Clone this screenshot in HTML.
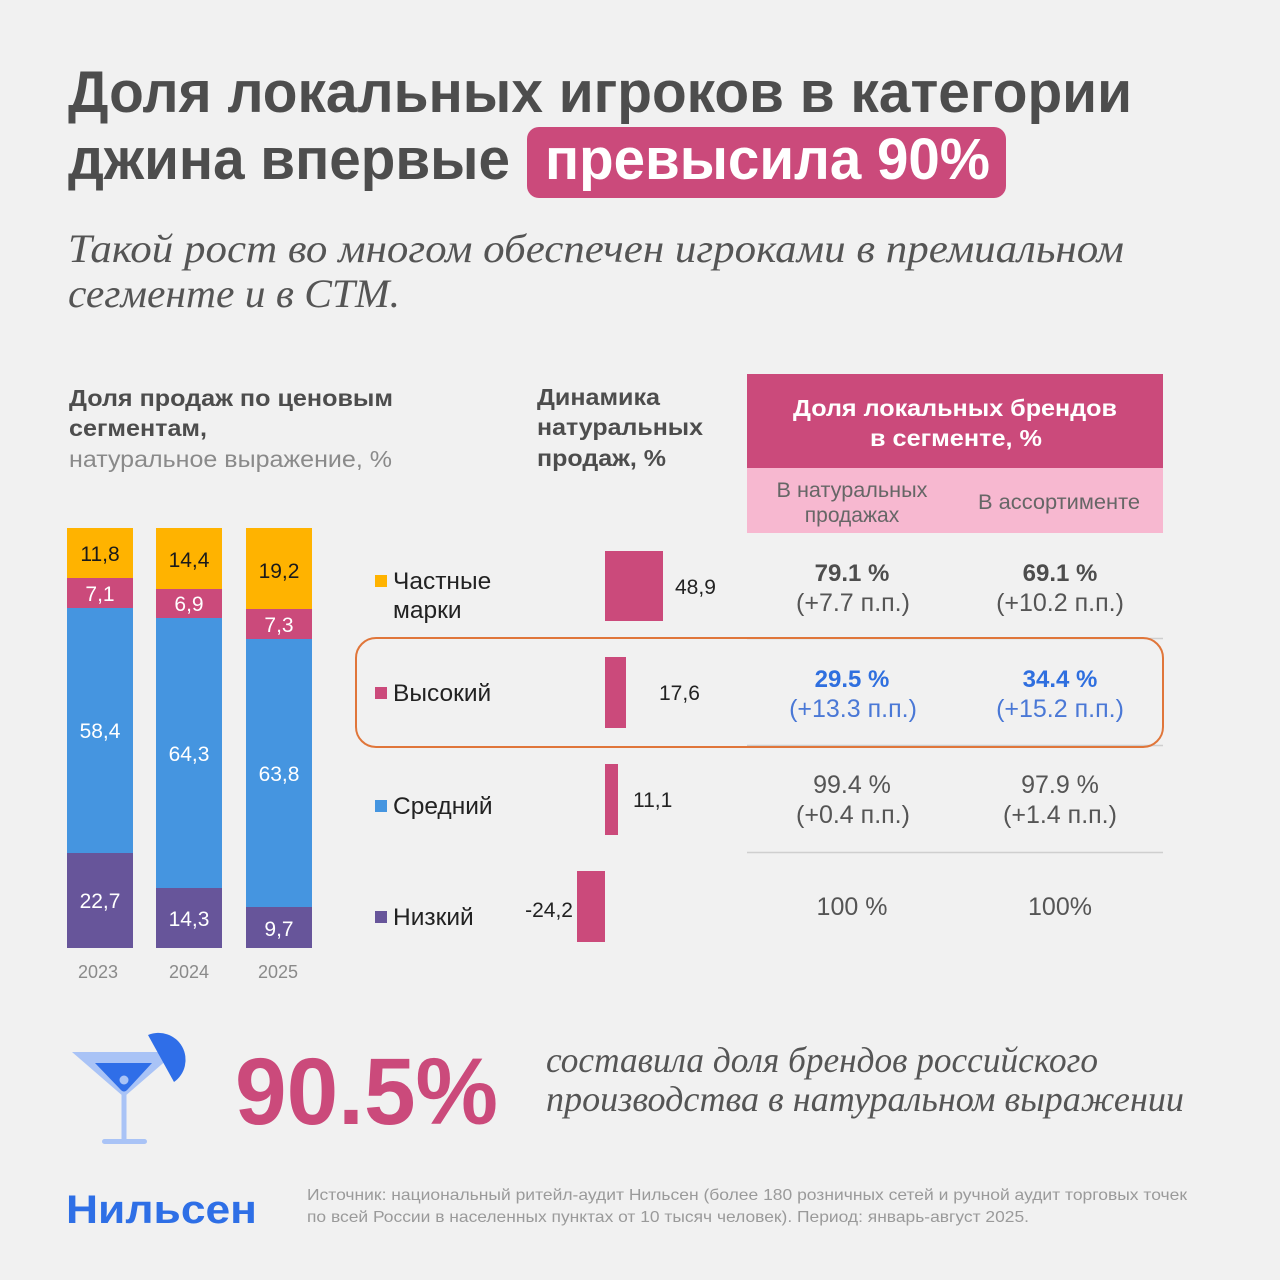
<!DOCTYPE html>
<html><head><meta charset="utf-8"><style>
html,body{margin:0;padding:0;background:#f1f1f1;}
svg{display:block;}
.s{font-family:"Liberation Sans","DejaVu Sans",sans-serif;}
.r{font-family:"Liberation Serif","DejaVu Serif",serif;font-style:italic;}
</style></head><body>
<svg width="1280" height="1280" viewBox="0 0 1280 1280" xmlns="http://www.w3.org/2000/svg">
<rect x="0" y="0" width="1280" height="1280" fill="#f1f1f1"/>

<!-- Title -->
<text class="s" x="68" y="112" font-size="58" font-weight="bold" fill="#4d4d4d" textLength="1064" lengthAdjust="spacingAndGlyphs">Доля локальных игроков в категории</text>
<text class="s" x="68" y="179" font-size="58" font-weight="bold" fill="#4d4d4d" textLength="442" lengthAdjust="spacingAndGlyphs">джина впервые</text>
<rect x="527" y="127" width="479" height="71" rx="12" fill="#cb4a7b"/>
<text class="s" x="545" y="179" font-size="58" font-weight="bold" fill="#ffffff" textLength="445" lengthAdjust="spacingAndGlyphs">превысила 90%</text>

<!-- Subtitle -->
<text class="r" x="68" y="262" font-size="40" fill="#555555" textLength="1056" lengthAdjust="spacingAndGlyphs">Такой рост во многом обеспечен игроками в премиальном</text>
<text class="r" x="68" y="307" font-size="40" fill="#555555" textLength="332" lengthAdjust="spacingAndGlyphs">сегменте и в СТМ.</text>

<!-- Section headers -->
<text class="s" x="69" y="406" font-size="23" font-weight="bold" fill="#4d4d4d" textLength="324" lengthAdjust="spacingAndGlyphs">Доля продаж по ценовым</text>
<text class="s" x="69" y="436" font-size="23" font-weight="bold" fill="#4d4d4d" textLength="138" lengthAdjust="spacingAndGlyphs">сегментам,</text>
<text class="s" x="69" y="467" font-size="23" fill="#8a8a8a" textLength="323" lengthAdjust="spacingAndGlyphs">натуральное выражение, %</text>

<text class="s" x="537" y="405" font-size="23" font-weight="bold" fill="#4d4d4d" textLength="123" lengthAdjust="spacingAndGlyphs">Динамика</text>
<text class="s" x="537" y="435" font-size="23" font-weight="bold" fill="#4d4d4d" textLength="166" lengthAdjust="spacingAndGlyphs">натуральных</text>
<text class="s" x="537" y="466" font-size="23" font-weight="bold" fill="#4d4d4d" textLength="129" lengthAdjust="spacingAndGlyphs">продаж, %</text>

<!-- Table header -->
<rect x="747" y="374" width="416" height="94" fill="#cb4a7b"/>
<rect x="747" y="468" width="416" height="65" fill="#f7b8d0"/>
<text class="s" x="955" y="416" font-size="23" font-weight="bold" fill="#ffffff" text-anchor="middle" textLength="324" lengthAdjust="spacingAndGlyphs">Доля локальных брендов</text>
<text class="s" x="956" y="446" font-size="23" font-weight="bold" fill="#ffffff" text-anchor="middle" textLength="172" lengthAdjust="spacingAndGlyphs">в сегменте, %</text>
<text class="s" x="852" y="497" font-size="21" fill="#666666" text-anchor="middle" textLength="151" lengthAdjust="spacingAndGlyphs">В натуральных</text>
<text class="s" x="852" y="522" font-size="21" fill="#666666" text-anchor="middle">продажах</text>
<text class="s" x="1059" y="509" font-size="21" fill="#666666" text-anchor="middle" textLength="162" lengthAdjust="spacingAndGlyphs">В ассортименте</text>

<!-- Table lines -->
<line x1="747" y1="638.5" x2="1163" y2="638.5" stroke="#cfcfcf" stroke-width="1.5"/>
<line x1="747" y1="745.5" x2="1163" y2="745.5" stroke="#cfcfcf" stroke-width="1.5"/>
<line x1="747" y1="852.5" x2="1163" y2="852.5" stroke="#cfcfcf" stroke-width="1.5"/>

<!-- Table values -->
<g class="s" text-anchor="middle">
<text x="852" y="581" font-size="24" font-weight="bold" fill="#4d4d4d">79.1 %</text>
<text x="853" y="611" font-size="25" fill="#555555">(+7.7 п.п.)</text>
<text x="1060" y="581" font-size="24" font-weight="bold" fill="#4d4d4d">69.1 %</text>
<text x="1060" y="611" font-size="25" fill="#555555">(+10.2 п.п.)</text>

<text x="852" y="687" font-size="24" font-weight="bold" fill="#2f6fdf">29.5 %</text>
<text x="853" y="717" font-size="25" fill="#4a78d6">(+13.3 п.п.)</text>
<text x="1060" y="687" font-size="24" font-weight="bold" fill="#2f6fdf">34.4 %</text>
<text x="1060" y="717" font-size="25" fill="#4a78d6">(+15.2 п.п.)</text>

<text x="852" y="793" font-size="25" fill="#555555">99.4 %</text>
<text x="853" y="823" font-size="25" fill="#555555">(+0.4 п.п.)</text>
<text x="1060" y="793" font-size="25" fill="#555555">97.9 %</text>
<text x="1060" y="823" font-size="25" fill="#555555">(+1.4 п.п.)</text>

<text x="852" y="915" font-size="25" fill="#555555">100 %</text>
<text x="1060" y="915" font-size="25" fill="#555555">100%</text>
</g>

<!-- Highlight box -->
<rect x="356" y="638" width="807" height="109" rx="20" fill="none" stroke="#e0763a" stroke-width="2"/>

<!-- Stacked bars -->
<g>
<rect x="67" y="528" width="66" height="50" fill="#ffb300"/>
<rect x="67" y="578" width="66" height="30" fill="#cb4a7b"/>
<rect x="67" y="608" width="66" height="245" fill="#4595e0"/>
<rect x="67" y="853" width="66" height="95" fill="#67559a"/>

<rect x="156" y="528" width="66" height="61" fill="#ffb300"/>
<rect x="156" y="589" width="66" height="29" fill="#cb4a7b"/>
<rect x="156" y="618" width="66" height="270" fill="#4595e0"/>
<rect x="156" y="888" width="66" height="60" fill="#67559a"/>

<rect x="246" y="528" width="66" height="81" fill="#ffb300"/>
<rect x="246" y="609" width="66" height="30" fill="#cb4a7b"/>
<rect x="246" y="639" width="66" height="268" fill="#4595e0"/>
<rect x="246" y="907" width="66" height="41" fill="#67559a"/>
</g>
<g class="s" font-size="21" text-anchor="middle">
<text x="100" y="561" fill="#1a1a1a">11,8</text>
<text x="100" y="601" fill="#ffffff">7,1</text>
<text x="100" y="738" fill="#ffffff">58,4</text>
<text x="100" y="908" fill="#ffffff">22,7</text>

<text x="189" y="567" fill="#1a1a1a">14,4</text>
<text x="189" y="611" fill="#ffffff">6,9</text>
<text x="189" y="761" fill="#ffffff">64,3</text>
<text x="189" y="926" fill="#ffffff">14,3</text>

<text x="279" y="578" fill="#1a1a1a">19,2</text>
<text x="279" y="632" fill="#ffffff">7,3</text>
<text x="279" y="781" fill="#ffffff">63,8</text>
<text x="279" y="936" fill="#ffffff">9,7</text>
</g>
<g class="s" font-size="18" fill="#8a8a8a" text-anchor="middle">
<text x="98" y="978">2023</text>
<text x="189" y="978">2024</text>
<text x="278" y="978">2025</text>
</g>

<!-- Legend -->
<rect x="375" y="575" width="12" height="12" fill="#ffb300"/>
<rect x="375" y="687" width="12" height="12" fill="#cb4a7b"/>
<rect x="375" y="800" width="12" height="12" fill="#4595e0"/>
<rect x="375" y="911" width="12" height="12" fill="#67559a"/>
<g class="s" font-size="24.5" fill="#222222">
<text x="393" y="589">Частные</text>
<text x="393" y="618">марки</text>
<text x="393" y="701">Высокий</text>
<text x="393" y="814">Средний</text>
<text x="393" y="925">Низкий</text>
</g>

<!-- Dynamics bars -->
<rect x="605" y="551" width="58" height="70" fill="#cb4a7b"/>
<rect x="605" y="657" width="21" height="71" fill="#cb4a7b"/>
<rect x="605" y="764" width="13" height="71" fill="#cb4a7b"/>
<rect x="577" y="871" width="28" height="71" fill="#cb4a7b"/>
<g class="s" font-size="21" fill="#222222">
<text x="675" y="594">48,9</text>
<text x="659" y="700">17,6</text>
<text x="633" y="807">11,1</text>
<text x="573" y="917" text-anchor="end">-24,2</text>
</g>

<!-- Cocktail icon -->
<polygon points="72,1052 176,1052 124,1097" fill="#a9c3f6"/>
<path d="M95,1063 L152,1063 L128,1089 Q124,1094 120,1089 Z" fill="#2f6ee8"/>
<circle cx="124" cy="1080" r="4.5" fill="#a9c3f6"/>
<rect x="121.5" y="1094" width="5" height="47" fill="#a9c3f6"/>
<rect x="102" y="1139" width="45" height="5" rx="2.5" fill="#a9c3f6"/>
<path d="M148,1035 L174,1082 A27,27 0 0 0 148,1035 Z" fill="#2f6ee8"/>

<!-- Big number -->
<text class="s" x="235" y="1124" font-size="95" font-weight="bold" fill="#cb4a7b" textLength="263" lengthAdjust="spacingAndGlyphs">90.5%</text>

<text class="r" x="546" y="1072" font-size="36" fill="#555555" textLength="552" lengthAdjust="spacingAndGlyphs">составила доля брендов российского</text>
<text class="r" x="546" y="1111" font-size="36" fill="#555555" textLength="638" lengthAdjust="spacingAndGlyphs">производства в натуральном выражении</text>

<!-- Footer -->
<text class="s" x="66" y="1223" font-size="40" font-weight="bold" fill="#2e6fe6" textLength="191" lengthAdjust="spacingAndGlyphs">Нильсен</text>
<text class="s" x="307" y="1200" font-size="16" fill="#9a9a9a" textLength="880" lengthAdjust="spacingAndGlyphs">Источник: национальный ритейл-аудит Нильсен (более 180 розничных сетей и ручной аудит торговых точек</text>
<text class="s" x="307" y="1222" font-size="16" fill="#9a9a9a" textLength="722" lengthAdjust="spacingAndGlyphs">по всей России в населенных пунктах от 10 тысяч человек). Период: январь-август 2025.</text>
</svg>
</body></html>
